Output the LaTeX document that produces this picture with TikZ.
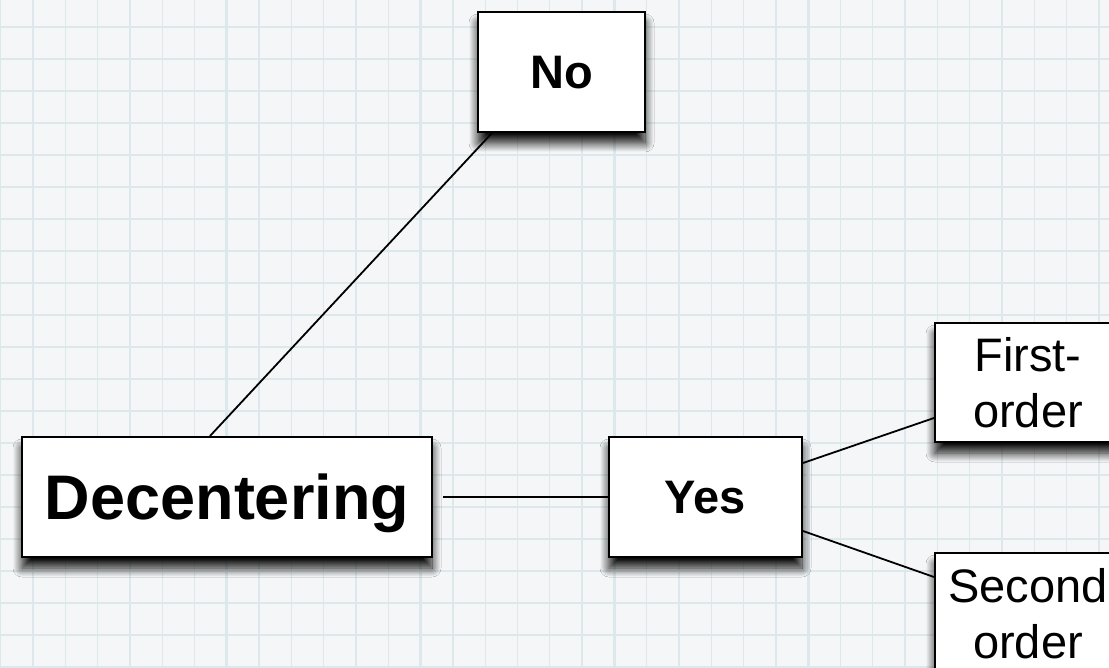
\documentclass[tikz,border=0pt]{standalone}
\usepackage{fontspec}
\setmainfont{Liberation Sans}
\usetikzlibrary{shadows.blur}

\definecolor{paper}{RGB}{245,246,247}
\definecolor{gridline}{RGB}{221,232,236}

\tikzset{
  box/.style={draw=black, line width=2pt, fill=white, inner sep=0pt,
    align=center, text depth=0pt,
    blur shadow={shadow xshift=0pt, shadow yshift=-11pt,
      shadow blur radius=9pt, shadow blur steps=16, shadow opacity=95}},
  boldbig/.style={font=\fontsize{63}{70}\selectfont\bfseries},
  boldmid/.style={font=\fontsize{47}{52}\selectfont\bfseries},
  plain/.style={font=\fontsize{47}{56}\selectfont},
  conn/.style={draw=black, line width=1.8pt},
  thin grid/.style={gridline, line width=1.3pt},
  thick grid/.style={gridline, line width=2.8pt}
}

\begin{document}
\begin{tikzpicture}[x=1pt, y=-1pt]
  \clip (0,0) rectangle (1109,668);
  \fill[paper] (0,0) rectangle (1109,668);

  % graph-paper background
  \foreach \k in {-1,...,34} {
    \pgfmathsetmacro{\gx}{33+32.3*\k}
    \draw[thin grid] (\gx,0) -- (\gx,668);
  }
  \foreach \k in {-1,...,20} {
    \pgfmathsetmacro{\gy}{27+32*\k}
    \draw[thin grid] (0,\gy) -- (1109,\gy);
  }
  \foreach \k in {0,6,...,30} {
    \pgfmathsetmacro{\gx}{33+32.3*\k}
    \draw[thick grid] (\gx,0) -- (\gx,668);
  }
  \foreach \k in {0,6,12,18} {
    \pgfmathsetmacro{\gy}{27+32*\k}
    \draw[thick grid] (0,\gy) -- (1109,\gy);
  }

  % decision boxes
  \node[box, boldmid, minimum width=167pt, minimum height=120pt]
    (no) at (561.5,72) {No};
  \node[box, boldbig, minimum width=410pt, minimum height=120pt]
    (dec) at (227,497) {Decentering};
  \node[box, boldmid, minimum width=193pt, minimum height=120pt]
    (yes) at (705.5,497) {Yes};
  \node[box, plain, minimum width=186pt, minimum height=119pt]
    (first) at (1028,382.5) {First-\\order};
  \node[box, plain, minimum width=186pt, minimum height=120pt]
    (second) at (1028,613) {Second\\order};

  % connectors
  \draw[conn] ([xshift=-17pt]dec.north) -- ([xshift=-69.5pt]no.south);
  \draw[conn, shorten <=10pt] (dec.east) -- (yes.west);
  \draw[conn] ([yshift=34pt]yes.east) -- ([yshift=-35.5pt]first.west);
  \draw[conn] ([yshift=-34pt]yes.east) -- ([yshift=36pt]second.west);
\end{tikzpicture}
\end{document}
